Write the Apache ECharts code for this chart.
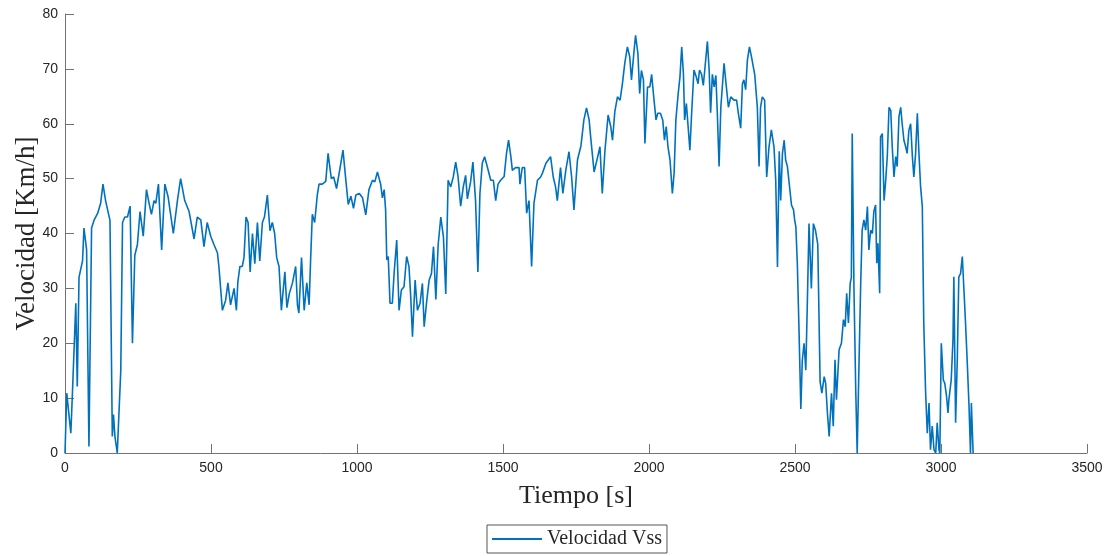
<!DOCTYPE html>
<html>
<head>
<meta charset="utf-8">
<script src="https://cdn.jsdelivr.net/npm/echarts@6/dist/echarts.min.js"></script>
<style>
html,body{margin:0;padding:0;background:#fff;}
#chart{width:1109px;height:556px;}
</style>
</head>
<body>
<div id="chart"></div>
<script>
const seriesName = 'Velocidad Vss';
const xTitle = 'Tiempo [s]';
const yTitle = 'Velocidad [Km/h]';
const timeS = [0,6,20,25,37,42,48,60,65,74,82,91,100,112,122,130,139,145,154,162,166,171,179,185,191,197,205,214,223,231,239,248,257,268,279,288,296,305,311,320,331,342,353,371,385,396,410,425,442,453,465,476,487,499,510,522,527,539,550,558,567,579,587,592,599,607,613,620,627,634,642,650,659,667,676,683,693,702,710,718,725,733,741,753,760,768,779,790,796,801,810,819,828,836,841,847,855,864,870,881,893,901,912,920,930,944,952,962,970,979,988,996,1008,1019,1030,1041,1053,1061,1070,1081,1087,1093,1098,1102,1107,1113,1121,1127,1136,1144,1152,1161,1170,1178,1184,1190,1199,1207,1216,1224,1230,1238,1247,1255,1262,1270,1278,1287,1296,1304,1312,1321,1330,1338,1346,1355,1364,1372,1378,1389,1397,1406,1414,1421,1429,1437,1446,1458,1467,1475,1483,1492,1504,1512,1519,1527,1532,1543,1555,1558,1566,1574,1581,1589,1598,1606,1618,1629,1635,1647,1655,1663,1672,1680,1686,1697,1705,1715,1726,1735,1743,1755,1767,1777,1786,1795,1800,1812,1823,1832,1840,1849,1860,1869,1875,1883,1892,1901,1909,1917,1926,1934,1940,1949,1954,1962,1968,1974,1981,1986,1995,2003,2009,2016,2024,2030,2039,2047,2053,2059,2065,2072,2080,2086,2092,2100,2106,2112,2118,2122,2128,2134,2140,2146,2154,2162,2168,2173,2180,2186,2191,2200,2206,2211,2217,2223,2229,2234,2240,2246,2257,2265,2272,2280,2291,2300,2306,2314,2320,2325,2331,2337,2344,2351,2356,2362,2371,2377,2382,2388,2396,2403,2411,2419,2428,2434,2440,2446,2451,2457,2463,2468,2474,2480,2488,2495,2499,2503,2508,2514,2520,2525,2531,2537,2542,2548,2556,2563,2570,2578,2586,2592,2600,2605,2611,2617,2625,2631,2637,2642,2651,2659,2666,2672,2677,2683,2689,2693,2696,2702,2708,2713,2719,2725,2730,2736,2742,2748,2753,2759,2765,2770,2776,2780,2784,2790,2793,2799,2805,2810,2816,2822,2828,2833,2839,2845,2850,2856,2862,2867,2873,2879,2884,2890,2896,2902,2907,2913,2919,2924,2930,2936,2941,2947,2953,2959,2964,2970,2976,2982,2987,2993,2996,3001,3008,3013,3019,3024,3027,3035,3041,3044,3050,3056,3061,3067,3073,3078,3084,3090,3096,3101,3104,3110];
const speedKmh = [0,10.9,3.6,10.3,27.3,12.1,32,35,41,37,1.2,41,42.5,43.7,45.5,49,46,46,42.4,3,7,3,0,0,15,42,43,43,45,20,36,38,44,39.5,48,45.5,43.5,46,45.5,49,37,49,46.7,40,46,50,46,44,39,43,42.5,37.6,42,39.5,38,36.5,34,26,27.8,31,27,30,26,31.2,34,34,35.6,43,42,33,40,34.5,42,35,42,43,47,40.5,42,40,35.6,34,26,33,26.5,29,31,34,27,25.5,35.6,26,31,27,35,43.5,42,47,49,49,49.5,54.6,50,50.3,48.2,52.6,55.2,49.6,45.3,46.8,44.6,47,47.3,46.5,43.4,48,49.7,49.4,51.2,49,46.5,48,44.3,35.2,35.8,27.3,27.3,32.7,38.8,26,29.7,30.3,35.8,34,28.5,21.2,31.5,26,27.3,30.9,23,27.3,31.5,32.7,37.6,28,38,43,39.4,29,49.7,48.5,50.4,53,50.4,45,48.5,50.6,46.3,49.4,53,46,33,47.3,52.8,54,52.2,49.7,49.7,46,49,49.7,50.4,54.6,57,54,51.5,52,52,49,52,52,43.7,46,34,45.5,49.7,50.3,51,52.8,53.4,54,50.3,48.5,46,52,47.3,51.5,54.9,50.3,44.3,53.4,56,60.7,62.9,60.7,57.7,51.2,53.7,55.8,47.3,55,61.6,59.5,57,62.2,64.9,64.3,67.3,71,74,72.2,68,73.4,76.1,72.8,65.5,69.7,68,56.4,66.7,66.7,69,65,60.7,61.9,61.9,60.7,57,59.5,55.8,53.4,47.3,51,60.7,65.5,68.5,74,69,60.7,63.7,63.7,55.2,61.9,69.8,68.5,67.3,69.8,69,67,69.8,75,69.8,62,69,66.7,68.8,61.9,52.2,63,71,66.7,63,64.9,64.3,64.3,61.9,59.2,67.3,68,66.2,71.6,74,72.2,72.2,69,63,52.2,63,64.9,64.3,50.3,55.8,58.9,55.8,49.7,33.9,55,46,54.6,57,53.4,52.2,49.2,45.2,44.3,42.4,41.2,34.5,21.8,8,16.9,20,15.1,26.7,41.8,30,41.8,40.6,38,13,10.9,13.9,12.7,7.3,3,10.9,4.9,17,9.7,18.8,20,24.3,23,29.1,23.7,30.9,32,58.2,29.7,11.5,0,15.8,30.9,40.6,42.5,40.6,44.9,37,40.6,40,44,45.2,34.6,38.2,29.1,57.6,58.2,46,49.2,54,63,62.4,55.8,50.3,54,52.2,61.3,63,60,57,55.8,54.6,58.8,60,54,50.3,54.6,61.9,55.2,48.6,44.9,23.7,11.5,3.6,9.1,0.6,4.9,0.6,0,5.5,0.6,0,20,13.3,12.7,10.3,7.3,9.7,13.3,20.6,32.1,5.5,17.6,32.1,32.7,35.8,30.3,23.7,16.4,8.5,0,9.1,0];

const data = timeS.map((t, i) => [t, speedKmh[i]]);

const chart = echarts.init(document.getElementById('chart'), null, {renderer: 'canvas'});
const axisColor = '#737373';
const serif = 'Liberation Serif, Times New Roman, serif';
const labelStyle = {color: '#262626', fontFamily: 'Liberation Sans, Arial, sans-serif', fontSize: 14};
chart.setOption({
  animation: false,
  backgroundColor: '#ffffff',
  grid: {left: 65, right: 22, top: 14, bottom: 103, containLabel: false, outerBoundsMode: 'none'},
  legend: {
    data: [{name: seriesName, icon: 'rect'}],
    left: 487, top: 525,
    padding: [4, 5],
    borderColor: '#555',
    borderWidth: 1,
    itemWidth: 50,
    itemHeight: 2,
    textStyle: {fontFamily: serif, fontSize: 20, color: '#262626'}
  },
  xAxis: {
    type: 'value', min: 0, max: 3500, interval: 500,
    name: xTitle, nameLocation: 'middle', nameGap: 30, nameMoveOverlap: false,
    nameTextStyle: {fontFamily: serif, fontSize: 26, color: '#262626'},
    axisLine: {show: true, lineStyle: {color: axisColor, width: 1}},
    axisTick: {show: true, inside: true, length: 9, lineStyle: {color: axisColor}},
    axisLabel: Object.assign({margin: 8, formatter: v => String(v)}, labelStyle),
    splitLine: {show: false}
  },
  yAxis: {
    type: 'value', min: 0, max: 80, interval: 10,
    name: yTitle, nameLocation: 'middle', nameGap: 25, nameMoveOverlap: false,
    nameTextStyle: {fontFamily: serif, fontSize: 27, color: '#262626'},
    axisLine: {show: true, lineStyle: {color: axisColor, width: 1}},
    axisTick: {show: true, inside: true, length: 9, lineStyle: {color: axisColor}},
    axisLabel: Object.assign({margin: 7, formatter: v => String(v)}, labelStyle),
    splitLine: {show: false}
  },
  series: [{
    name: seriesName,
    type: 'line',
    data: data,
    symbol: 'none',
    showSymbol: false,
    lineStyle: {color: '#0072BD', width: 1.6},
    itemStyle: {color: '#0072BD'}
  }]
});
</script>
</body>
</html>
